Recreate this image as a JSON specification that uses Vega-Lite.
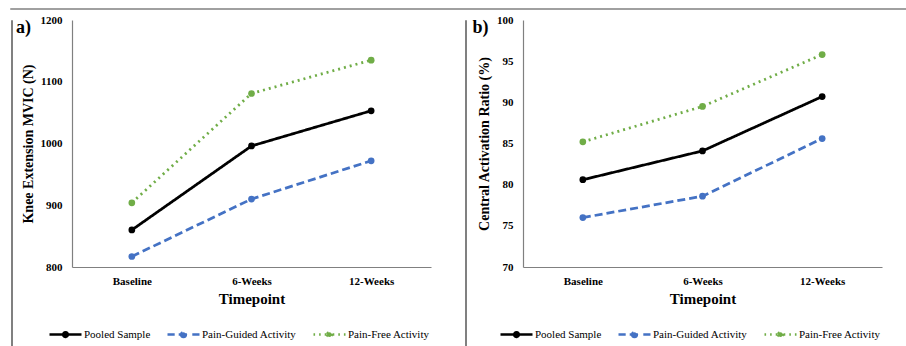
{
  "$schema": "https://vega.github.io/schema/vega-lite/v6.json",
  "padding": {"left": 9, "top": 7, "right": 0, "bottom": 0},
  "background": "white",
  "config": {
    "font": "Liberation Serif",
    "view": {"stroke": null},
    "axis": {"grid": false, "ticks": false, "domainColor": "#808080", "domainWidth": 1.2, "labelFont": "Liberation Serif", "labelFontWeight": "bold", "labelFontSize": 11, "labelColor": "#000", "titleFont": "Liberation Serif", "titleFontWeight": "bold", "titleColor": "#000"},
    "title": {"font": "Liberation Serif", "fontWeight": "bold", "fontSize": 5, "color": "#000", "subtitleFont": "Liberation Serif", "subtitleFontSize": 18, "subtitleFontWeight": "bold", "subtitleColor": "#000", "subtitlePadding": 0},
    "legend": {"orient": "none", "legendX": -24, "legendY": 297, "direction": "horizontal", "title": null, "symbolSize": 1024, "symbolStrokeWidth": 2.5, "labelFont": "Liberation Serif", "labelFontSize": 11, "labelFontWeight": "normal", "labelColor": "#000", "columnPadding": 11, "labelOffset": 1, "padding": 0}
  },
  "datasets": {
    "mvic": [
      {"timepoint": "Baseline", "group": "Pooled Sample", "value": 860},
      {"timepoint": "6-Weeks", "group": "Pooled Sample", "value": 996},
      {"timepoint": "12-Weeks", "group": "Pooled Sample", "value": 1053},
      {"timepoint": "Baseline", "group": "Pain-Guided Activity", "value": 817},
      {"timepoint": "6-Weeks", "group": "Pain-Guided Activity", "value": 910},
      {"timepoint": "12-Weeks", "group": "Pain-Guided Activity", "value": 972},
      {"timepoint": "Baseline", "group": "Pain-Free Activity", "value": 904},
      {"timepoint": "6-Weeks", "group": "Pain-Free Activity", "value": 1081},
      {"timepoint": "12-Weeks", "group": "Pain-Free Activity", "value": 1135}
    ],
    "car": [
      {"timepoint": "Baseline", "group": "Pooled Sample", "value": 80.6},
      {"timepoint": "6-Weeks", "group": "Pooled Sample", "value": 84.1},
      {"timepoint": "12-Weeks", "group": "Pooled Sample", "value": 90.7},
      {"timepoint": "Baseline", "group": "Pain-Guided Activity", "value": 76.0},
      {"timepoint": "6-Weeks", "group": "Pain-Guided Activity", "value": 78.6},
      {"timepoint": "12-Weeks", "group": "Pain-Guided Activity", "value": 85.6},
      {"timepoint": "Baseline", "group": "Pain-Free Activity", "value": 85.2},
      {"timepoint": "6-Weeks", "group": "Pain-Free Activity", "value": 89.5},
      {"timepoint": "12-Weeks", "group": "Pain-Free Activity", "value": 95.8}
    ]
  },
  "spacing": 0,
  "resolve": {"legend": {"color": "independent", "strokeDash": "independent"}, "scale": {"y": "independent"}},
  "vconcat": [
    {
      "width": 897, "height": 0.001,
      "data": {"values": [{}]},
      "mark": {"type": "rule", "opacity": 0},
      "encoding": {},
      "view": {"stroke": "#808080", "strokeWidth": 1.5}
    },
    {
      "spacing": 33,
      "resolve": {"legend": {"color": "independent", "strokeDash": "independent"}, "scale": {"y": "independent"}},
      "hconcat": [
        {
          "spacing": 3,
          "resolve": {"legend": {"color": "independent", "strokeDash": "independent"}, "scale": {"y": "independent"}},
          "hconcat": [
            {
              "width": 1, "height": 339,
              "data": {"values": [{}]},
              "mark": {"type": "rule", "opacity": 0},
              "encoding": {},
              "view": {"stroke": "#808080", "strokeWidth": 1}
            },
            {
              "width": 359, "height": 247,
              "data": {"name": "mvic"},
              "title": {"text": " ", "subtitle": "a)", "anchor": "start", "frame": "bounds", "offset": -23, "dx": -5},
              "encoding": {
                "x": {"field": "timepoint", "type": "ordinal", "sort": ["Baseline", "6-Weeks", "12-Weeks"], "scale": {"type": "point", "padding": 0.5}, "axis": {"title": "Timepoint", "titleFontSize": 15, "labelAngle": 0, "labelPadding": 8, "titlePadding": 5}},
                "y": {"field": "value", "type": "quantitative", "scale": {"domain": [800, 1200], "nice": false, "zero": false}, "axis": {"title": "Knee Extension MVIC (N)", "titleFontSize": 14, "values": [800, 900, 1000, 1100, 1200], "format": "d", "labelPadding": 10, "titlePadding": 5}},
                "color": {"field": "group", "type": "nominal", "scale": {"domain": ["Pooled Sample", "Pain-Guided Activity", "Pain-Free Activity"], "range": ["#000000", "#4472C4", "#70AD47"]},
                  "legend": {
                    "encode": {"symbols": {"update": {
                      "shape": {"signal": "datum.value === 'Pooled Sample' ? 'M-1,0L1,0M-0.15,0A0.15,0.15,0,1,0,0.15,0A0.15,0.15,0,1,0,-0.15,0Z' : datum.value === 'Pain-Guided Activity' ? 'M-1,0L-0.55,0M-0.3,0L0.3,0M0.55,0L1,0M-0.15,0A0.15,0.15,0,1,0,0.15,0A0.15,0.15,0,1,0,-0.15,0Z' : 'M-1,0L-0.9,0M-0.65,0L-0.55,0M-0.3,0L-0.2,0M0.2,0L0.3,0M0.55,0L0.65,0M0.9,0L1,0M-0.15,0A0.15,0.15,0,1,0,0.15,0A0.15,0.15,0,1,0,-0.15,0Z'"},
                      "fill": {"signal": "datum.value === 'Pooled Sample' ? '#000000' : datum.value === 'Pain-Guided Activity' ? '#4472C4' : '#70AD47'"},
                      "stroke": {"signal": "datum.value === 'Pooled Sample' ? '#000000' : datum.value === 'Pain-Guided Activity' ? '#4472C4' : '#70AD47'"},
                      "strokeDash": {"value": [1, 0]},
                      "opacity": {"value": 1}
                    }}}}}
              },
              "layer": [
                {"mark": {"type": "line", "strokeWidth": 2.75}, "encoding": {"strokeDash": {"field": "group", "type": "nominal", "scale": {"domain": ["Pooled Sample", "Pain-Guided Activity", "Pain-Free Activity"], "range": [[1, 0], [8, 4], [2, 4]]}, "legend": null}}},
                {"mark": {"type": "point", "filled": true, "size": 45, "opacity": 1}}
              ]
            }
          ]
        },
        {
          "spacing": 5,
          "resolve": {"legend": {"color": "independent", "strokeDash": "independent"}, "scale": {"y": "independent"}},
          "hconcat": [
            {
              "width": 1, "height": 339,
              "data": {"values": [{}]},
              "mark": {"type": "rule", "opacity": 0},
              "encoding": {},
              "view": {"stroke": "#808080", "strokeWidth": 1}
            },
            {
              "width": 359, "height": 247,
              "data": {"name": "car"},
              "title": {"text": " ", "subtitle": "b)", "anchor": "start", "frame": "bounds", "offset": -23, "dx": -5},
              "encoding": {
                "x": {"field": "timepoint", "type": "ordinal", "sort": ["Baseline", "6-Weeks", "12-Weeks"], "scale": {"type": "point", "padding": 0.5}, "axis": {"title": "Timepoint", "titleFontSize": 15, "labelAngle": 0, "labelPadding": 8, "titlePadding": 5}},
                "y": {"field": "value", "type": "quantitative", "scale": {"domain": [70, 100], "nice": false, "zero": false}, "axis": {"title": "Central Activation Ratio (%)", "titleFontSize": 14, "values": [70, 75, 80, 85, 90, 95, 100], "format": "d", "labelPadding": 10, "titlePadding": 5}},
                "color": {"field": "group", "type": "nominal", "scale": {"domain": ["Pooled Sample", "Pain-Guided Activity", "Pain-Free Activity"], "range": ["#000000", "#4472C4", "#70AD47"]},
                  "legend": {
                    "encode": {"symbols": {"update": {
                      "shape": {"signal": "datum.value === 'Pooled Sample' ? 'M-1,0L1,0M-0.15,0A0.15,0.15,0,1,0,0.15,0A0.15,0.15,0,1,0,-0.15,0Z' : datum.value === 'Pain-Guided Activity' ? 'M-1,0L-0.55,0M-0.3,0L0.3,0M0.55,0L1,0M-0.15,0A0.15,0.15,0,1,0,0.15,0A0.15,0.15,0,1,0,-0.15,0Z' : 'M-1,0L-0.9,0M-0.65,0L-0.55,0M-0.3,0L-0.2,0M0.2,0L0.3,0M0.55,0L0.65,0M0.9,0L1,0M-0.15,0A0.15,0.15,0,1,0,0.15,0A0.15,0.15,0,1,0,-0.15,0Z'"},
                      "fill": {"signal": "datum.value === 'Pooled Sample' ? '#000000' : datum.value === 'Pain-Guided Activity' ? '#4472C4' : '#70AD47'"},
                      "stroke": {"signal": "datum.value === 'Pooled Sample' ? '#000000' : datum.value === 'Pain-Guided Activity' ? '#4472C4' : '#70AD47'"},
                      "strokeDash": {"value": [1, 0]},
                      "opacity": {"value": 1}
                    }}}}}
              },
              "layer": [
                {"mark": {"type": "line", "strokeWidth": 2.75}, "encoding": {"strokeDash": {"field": "group", "type": "nominal", "scale": {"domain": ["Pooled Sample", "Pain-Guided Activity", "Pain-Free Activity"], "range": [[1, 0], [8, 4], [2, 4]]}, "legend": null}}},
                {"mark": {"type": "point", "filled": true, "size": 45, "opacity": 1}}
              ]
            }
          ]
        }
      ]
    }
  ]
}
